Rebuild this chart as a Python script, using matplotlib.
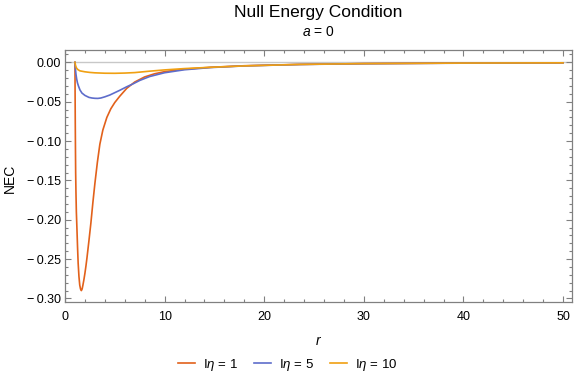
import numpy as np
import matplotlib
matplotlib.use("Agg")
import matplotlib.pyplot as plt
from matplotlib.ticker import MultipleLocator, FuncFormatter

plt.rcParams['font.family'] = ['Liberation Sans', 'DejaVu Sans']
plt.rcParams['mathtext.fontset'] = 'custom'
plt.rcParams['mathtext.rm'] = 'Liberation Sans'
plt.rcParams['mathtext.it'] = 'Liberation Sans:italic'

# values
r_eta1 = [1.0, 1.01, 1.03, 1.05, 1.07, 1.1, 1.14, 1.2, 1.26, 1.32, 1.4, 1.48, 1.56, 1.64,
          1.72, 1.8, 1.9, 2.0, 2.1, 2.2, 2.4, 2.6, 2.8, 3.0, 3.25, 3.5, 3.8, 4.2, 4.6,
          5.0, 5.5, 6.2, 7.0, 8.0, 9.0, 10.0, 12.0, 14.6, 18.0, 23.6, 30.0, 40.0, 50.0]
nec_eta1 = [0.0, -0.03, -0.075, -0.11, -0.14, -0.165, -0.19, -0.212, -0.235, -0.255,
            -0.272, -0.283, -0.288, -0.290, -0.288, -0.283, -0.276, -0.268, -0.259,
            -0.249, -0.227, -0.204, -0.178, -0.154, -0.127, -0.104, -0.086, -0.070,
            -0.059, -0.051, -0.043, -0.033, -0.025, -0.0185, -0.0145, -0.0118, -0.0086,
            -0.0063, -0.0043, -0.0026, -0.0016, -0.0009, -0.0006]

r_eta5 = [1.0, 1.03, 1.06, 1.1, 1.17, 1.25, 1.35, 1.5, 1.7, 2.0, 2.4, 2.7, 3.0, 3.3,
          3.6, 4.0, 4.5, 5.0, 5.5, 6.2, 6.8, 7.5, 8.5, 10.0, 12.0, 14.6, 18.0, 23.6,
          30.0, 40.0, 50.0]
nec_eta5 = [0.0, -0.005, -0.01, -0.015, -0.021, -0.026, -0.030, -0.035, -0.039, -0.042,
            -0.0445, -0.0453, -0.0457, -0.0458, -0.0453, -0.0438, -0.0415, -0.0385,
            -0.0355, -0.031, -0.0275, -0.023, -0.018, -0.0132, -0.0094, -0.0066,
            -0.0045, -0.0027, -0.0017, -0.001, -0.0006]

r_eta10 = [1.0, 1.03, 1.06, 1.1, 1.17, 1.3, 1.5, 2.0, 2.5, 3.0, 4.0, 5.0, 6.0, 7.0,
           8.5, 10.0, 12.0, 14.6, 18.0, 23.6, 30.0, 40.0, 50.0]
nec_eta10 = [0.0, -0.002, -0.004, -0.0055, -0.0075, -0.0093, -0.0108, -0.012, -0.0128,
             -0.0133, -0.0138, -0.0139, -0.0136, -0.013, -0.0112, -0.0096, -0.0079,
             -0.0063, -0.0045, -0.0026, -0.0016, -0.0009, -0.0006]

labels = [r'I$\eta$ = 1', r'I$\eta$ = 5', r'I$\eta$ = 10']
colors = ['#E2611B', '#5E6DCB', '#F0A012']

fig = plt.figure(figsize=(5.76, 3.8), dpi=100)
ax = fig.add_axes([65/576, 1 - 302/380, 507/576, 252/380])

ax.axhline(0, color='#c8c8c8', lw=1.0, zorder=1)
ax.plot(r_eta1, nec_eta1, color=colors[0], lw=1.2, label=labels[0], zorder=3)
ax.plot(r_eta5, nec_eta5, color=colors[1], lw=1.2, label=labels[1], zorder=3)
ax.plot(r_eta10, nec_eta10, color=colors[2], lw=1.2, label=labels[2], zorder=4)

ax.set_xlim(0, 50.9)
ax.set_ylim(-0.3045, 0.0157)

ax.xaxis.set_major_locator(MultipleLocator(10))
ax.xaxis.set_minor_locator(MultipleLocator(2))
ax.yaxis.set_major_locator(MultipleLocator(0.05))
ax.yaxis.set_minor_locator(MultipleLocator(0.01))
ax.yaxis.set_major_formatter(FuncFormatter(lambda v, p: ('%.2f' % v).replace('-', '\u2212\u2009')))

for s in ax.spines.values():
    s.set_color('#808080')
    s.set_linewidth(0.9)
ax.tick_params(which='both', direction='in', top=True, right=True, color='#808080',
               labelsize=9, labelcolor='black', width=0.8)
ax.tick_params(which='major', length=4)
ax.tick_params(which='minor', length=2.2)
ax.tick_params(axis='x', pad=6.5)
ax.tick_params(axis='y', pad=3)

ax.set_xlabel('r', fontstyle='italic', fontsize=10, labelpad=8)
fig.text(10/576, 1 - 178/380, 'NEC', rotation=90, ha='center', va='center', fontsize=10)

fig.text(318/576, 1 - 12/380, 'Null Energy Condition', ha='center', va='center', fontsize=12.5)
fig.text(318/576, 1 - 32/380, r'$a$ = 0', ha='center', va='center', fontsize=10)

fig.legend(loc='center', bbox_to_anchor=(288/576, 1 - 365/380), ncol=3, frameon=False,
           fontsize=9.5, handlelength=1.25, columnspacing=1.2, handletextpad=0.65)

fig.savefig('out.png', dpi=100)
